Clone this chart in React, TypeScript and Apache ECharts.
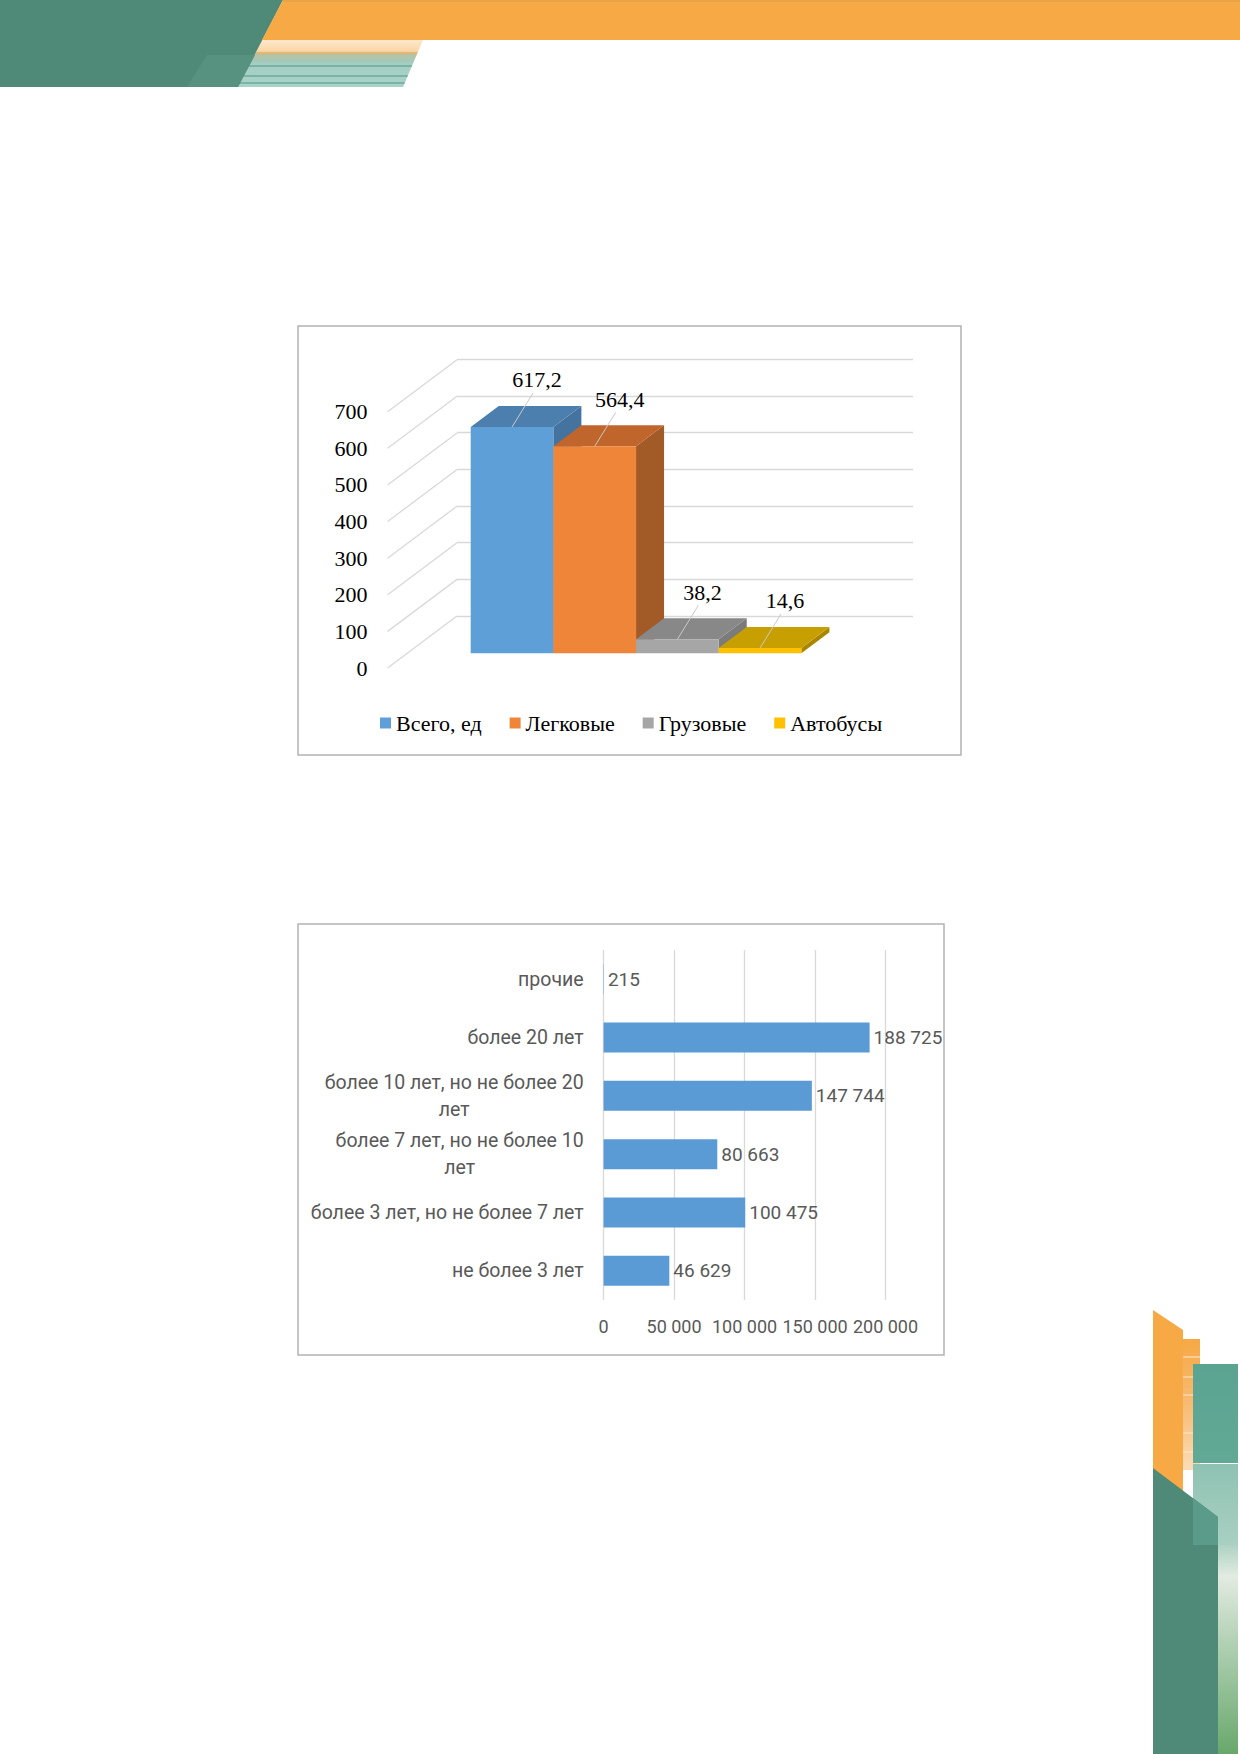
import React, { useEffect, useRef } from 'react';
import * as echarts from 'echarts';

// ---------- data: chart 1 (3D columns) ----------
const fleetNames = ['Всего, ед', 'Легковые', 'Грузовые', 'Автобусы'];
const fleetValues = [617.2, 564.4, 38.2, 14.6];
const fleetAxisMax = 700;
const fleetAxisStep = 100;
const fleetTicks = [0, 100, 200, 300, 400, 500, 600, 700];

// ---------- data: chart 2 (age bars) ----------
const ageCategories = [
  'прочие',
  'более 20 лет',
  'более 10 лет, но не более 20\nлет',
  'более 7 лет, но не более 10\nлет',
  'более 3 лет, но не более 7 лет',
  'не более 3 лет',
];
const ageValues = [215, 188725, 147744, 80663, 100475, 46629];
const ageAxisMax = 200000;
const ageAxisStep = 50000;

// ---------- styles ----------
const FRONT = ['#5f9fd8', '#ee8538', '#a6a6a6', '#ffc000'];
const TOP = ['#4d7fae', '#c0652b', '#888888', '#c89f00'];
const SIDE = ['#44739f', '#a25a26', '#7b7b7b', '#a98600'];
const DEPTH_X = 28;
const DEPTH_Y = 21;
const WALL_DX = 69.4;
const WALL_DY = 52;
const GRID_GRAY = '#d9d9d9';
const SERIF = '"Liberation Serif", "Times New Roman", serif';
const SANS = 'Roboto, "Noto Sans", sans-serif';

const fmtSpace = (n: number) => String(n).replace(/\B(?=(\d{3})+(?!\d))/g, ' ');
const fmtComma = (n: number) => String(n).replace('.', ',');

const lin = (x2: number, y2: number, stops: [number, string][]) => ({
  type: 'linear',
  x: 0,
  y: 0,
  x2,
  y2,
  colorStops: stops.map(([offset, color]) => ({ offset, color })),
});

const slantX = (y: number, xTop: number, xBot: number) => xTop + ((xBot - xTop) * (y - 40)) / 47;

function buildDecor() {
  const g: any[] = [];
  // header light striped strip
  g.push({
    type: 'polygon',
    shape: { points: [[262, 40], [423, 40], [403, 87], [238, 87]] },
    style: {
      fill: lin(0, 1, [
        [0, '#fde7cc'],
        [0.24, '#fbd6a6'],
        [0.27, '#eeb066'],
        [0.3, '#b9c2a0'],
        [0.45, '#a6c8b8'],
        [0.5, '#a2cec3'],
        [1, '#a9d3c9'],
      ]),
    },
  });
  [66, 76, 83].forEach((y) => {
    g.push({
      type: 'line',
      shape: { x1: slantX(y, 262, 238), y1: y, x2: slantX(y, 423, 403), y2: y },
      style: { stroke: '#6fa999', lineWidth: 1.4 },
    });
  });
  // green block
  g.push({
    type: 'polygon',
    shape: { points: [[0, 0], [283, 0], [238, 87], [0, 87]] },
    style: { fill: '#4f8a78' },
  });
  g.push({
    type: 'polygon',
    shape: { points: [[207, 55], [255, 55], [238, 87], [187, 87]] },
    style: { fill: '#57917f' },
  });
  // orange band
  g.push({
    type: 'polygon',
    shape: { points: [[283, 0], [1240, 0], [1240, 40], [262, 40]] },
    style: { fill: '#f6a945' },
  });
  g.push({ type: 'rect', shape: { x: 283, y: 0, width: 957, height: 2 }, style: { fill: '#e9a244' } });

  // bottom-right decoration
  g.push({
    type: 'polygon',
    shape: { points: [[1153, 1310], [1183, 1330], [1183, 1500], [1153, 1500]] },
    style: { fill: '#f6a945' },
  });
  g.push({
    type: 'rect',
    shape: { x: 1183, y: 1339, width: 17, height: 131 },
    style: { fill: lin(0, 1, [[0, '#f6a945'], [0.5, '#f8bb74'], [1, '#fbdcb6']]) },
  });
  [1357, 1377, 1395, 1433, 1452].forEach((y) => {
    g.push({ type: 'line', shape: { x1: 1183, y1: y, x2: 1200, y2: y }, style: { stroke: '#fde9d2', lineWidth: 1 } });
  });
  g.push({
    type: 'rect',
    shape: { x: 1193, y: 1364, width: 45, height: 99 },
    style: { fill: lin(0, 1, [[0, '#5aa491'], [1, '#62a995']]) },
  });
  g.push({
    type: 'rect',
    shape: { x: 1193, y: 1464, width: 45, height: 81 },
    style: { fill: lin(0, 1, [[0, '#8ec2b2'], [1, '#a9d0c2']]) },
  });
  g.push({
    type: 'rect',
    shape: { x: 1218, y: 1545, width: 20, height: 209 },
    style: {
      fill: lin(0, 1, [
        [0, '#aed2c4'],
        [0.15, '#e2ebe1'],
        [0.45, '#b4d2b6'],
        [1, '#68a86c'],
      ]),
    },
  });
  g.push({
    type: 'polygon',
    shape: { points: [[1153, 1468], [1218, 1517], [1218, 1754], [1153, 1754]] },
    style: { fill: '#4f8a78' },
  });
  g.push({
    type: 'polygon',
    shape: { points: [[1193, 1498], [1218, 1517], [1218, 1545], [1193, 1545]] },
    style: { fill: '#5a9b89' },
  });

  // chart frames
  g.push({
    type: 'rect',
    shape: { x: 298, y: 326, width: 663, height: 429 },
    style: { fill: 'none', stroke: '#b3b3b3', lineWidth: 1.5 },
    z: 0,
  });
  g.push({
    type: 'rect',
    shape: { x: 298, y: 924, width: 646, height: 431 },
    style: { fill: 'none', stroke: '#b3b3b3', lineWidth: 1.5 },
    z: 0,
  });
  return g;
}

function makeBar3d(idx: number) {
  return (_params: any, api: any) => {
    const i = api.value(0);
    const v = api.value(1);
    const tl = api.coord([i, v]);
    const br = api.coord([i + 1, 0]);
    const x0 = tl[0];
    const x1 = br[0];
    const yTop = tl[1];
    const yBot = br[1];
    const mx = (x0 + x1) / 2;
    return {
      type: 'group',
      children: [
        {
          type: 'polygon',
          shape: { points: [[x1, yTop], [x1 + DEPTH_X, yTop - DEPTH_Y], [x1 + DEPTH_X, yBot - DEPTH_Y], [x1, yBot]] },
          style: { fill: SIDE[idx] },
        },
        {
          type: 'polygon',
          shape: { points: [[x0, yTop], [x0 + DEPTH_X, yTop - DEPTH_Y], [x1 + DEPTH_X, yTop - DEPTH_Y], [x1, yTop]] },
          style: { fill: TOP[idx] },
        },
        {
          type: 'rect',
          shape: { x: x0, y: yTop, width: x1 - x0, height: yBot - yTop },
          style: { fill: FRONT[idx] },
        },
        {
          type: 'line',
          shape: { x1: mx, y1: yTop, x2: mx + 21, y2: yTop - 34 },
          style: { stroke: '#c9c9c9', lineWidth: 1 },
        },
        {
          type: 'text',
          x: mx + 25,
          y: yTop - 47,
          style: {
            text: fmtComma(v),
            fill: '#000000',
            fontSize: 22,
            fontFamily: SERIF,
            align: 'center',
            verticalAlign: 'middle',
          },
        },
      ],
    };
  };
}

function buildOption() {
  const hidden = { show: false };
  return {
    animation: false,
    backgroundColor: '#ffffff',
    graphic: buildDecor(),
    legend: {
      data: fleetNames,
      left: 375,
      top: 707,
      icon: 'rect',
      itemWidth: 11,
      itemHeight: 11,
      itemGap: 28,
      textStyle: { fontFamily: SERIF, fontSize: 22, color: '#000000' },
    },
    grid: [
      { left: 457, top: 359.3, width: 456, height: 256.7 },
      { left: 387.6, top: 411.7, width: 10, height: 256.3 },
      { left: 470.7, top: 396.6, width: 330.7, height: 256.7 },
      { left: 603.6, top: 950, width: 281.9, height: 350 },
    ],
    xAxis: [
      { gridIndex: 0, type: 'value', min: 0, max: 1, show: false },
      { gridIndex: 1, type: 'value', min: 0, max: 1, show: false },
      { gridIndex: 2, type: 'value', min: 0, max: fleetNames.length, show: false },
      {
        gridIndex: 3,
        type: 'value',
        min: 0,
        max: ageAxisMax,
        interval: ageAxisStep,
        axisLine: hidden,
        axisTick: hidden,
        splitLine: { lineStyle: { color: GRID_GRAY, width: 1.3 } },
        axisLabel: {
          formatter: (v: number) => fmtSpace(v),
          margin: 17,
          fontFamily: SANS,
          fontSize: 18,
          color: '#595959',
        },
      },
    ],
    yAxis: [
      {
        gridIndex: 0,
        type: 'value',
        min: 0,
        max: fleetAxisMax,
        interval: fleetAxisStep,
        axisLine: hidden,
        axisTick: hidden,
        axisLabel: hidden,
        splitLine: { lineStyle: { color: GRID_GRAY, width: 1.3 } },
      },
      {
        gridIndex: 1,
        type: 'value',
        min: 0,
        max: fleetAxisMax,
        interval: fleetAxisStep,
        axisLine: hidden,
        axisTick: hidden,
        splitLine: hidden,
        axisLabel: { margin: 20, fontFamily: SERIF, fontSize: 22, color: '#000000' },
      },
      { gridIndex: 2, type: 'value', min: 0, max: fleetAxisMax, show: false },
      {
        gridIndex: 3,
        type: 'category',
        data: ageCategories,
        inverse: true,
        axisLine: hidden,
        axisTick: hidden,
        axisLabel: {
          margin: 20,
          formatter: (v: string) => v.split('\n').map((l) => `{c|${l}}`).join('\n'),
          rich: {
            c: { align: 'center', fontFamily: SANS, fontSize: 19.5, color: '#595959', lineHeight: 27 },
          },
        },
      },
    ],
    series: [
      {
        type: 'custom',
        xAxisIndex: 1,
        yAxisIndex: 1,
        silent: true,
        z: 1,
        data: fleetTicks.map((t) => [0, t]),
        renderItem: (_p: any, api: any) => {
          const pt = api.coord([0, api.value(1)]);
          return {
            type: 'line',
            shape: { x1: pt[0], y1: pt[1], x2: pt[0] + WALL_DX, y2: pt[1] - WALL_DY },
            style: { stroke: GRID_GRAY, lineWidth: 1.3 },
          };
        },
      },
      ...fleetNames.map((name, i) => ({
        type: 'custom',
        name,
        xAxisIndex: 2,
        yAxisIndex: 2,
        z: 3 + i,
        itemStyle: { color: FRONT[i] },
        data: [[i, fleetValues[i]]],
        renderItem: makeBar3d(i),
      })),
      {
        type: 'bar',
        name: 'age',
        xAxisIndex: 3,
        yAxisIndex: 3,
        data: ageValues,
        barWidth: 30,
        itemStyle: { color: '#5b9bd5' },
        label: {
          show: true,
          position: 'right',
          distance: 4,
          formatter: (p: any) => fmtSpace(p.value),
          fontFamily: SANS,
          fontSize: 19,
          color: '#595959',
        },
      },
    ],
  };
}

export default function App() {
  const ref = useRef<HTMLDivElement>(null);
  useEffect(() => {
    if (!ref.current) return;
    const chart = echarts.init(ref.current, null, { renderer: 'svg' });
    chart.setOption(buildOption() as any);
    return () => chart.dispose();
  }, []);
  return (
    <div
      ref={ref}
      style={{ position: 'absolute', left: 0, top: 0, width: 1240, height: 1754, background: '#fff' }}
    />
  );
}
